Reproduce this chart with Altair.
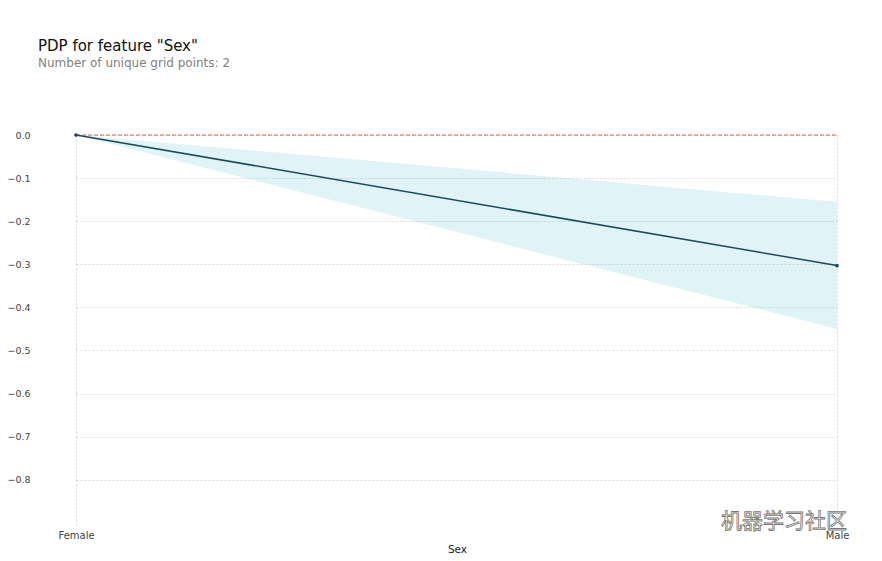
import altair as alt
import pandas as pd

categories = ["Female", "Male"]
pdp_values = [0.0, -0.303]
lower_values = [0.0, -0.450]
upper_values = [0.0, -0.155]
zero_values = [0.0, 0.0]
y_domain = [-0.905, 0.0]

df = pd.DataFrame({
    "Sex": categories,
    "pdp": pdp_values,
    "lo": lower_values,
    "hi": upper_values,
    "zero": zero_values,
})
wm_df = pd.DataFrame({"t": ["机器学习社区"]})

FONT = "DejaVu Sans"

x_scale = alt.Scale(type="point", padding=0, range=[40, 801])

x_enc = alt.X(
    "Sex:N",
    sort=categories,
    scale=x_scale,
    axis=alt.Axis(
        title="Sex",
        labelAngle=0,
        labelFont=FONT,
        labelFontSize=10,
        labelColor="#444444",
        labelPadding=5,
        titleFont=FONT,
        titleFontSize=10.5,
        titleFontWeight="normal",
        titleColor="#222222",
        titlePadding=4,
        titleX=421,
        domain=False,
        ticks=False,
        grid=True,
        gridColor="#c8c8c8",
        gridDash=[2, 2],
        gridWidth=0.7,
    ),
)

y_scale = alt.Scale(domain=y_domain, nice=False, zero=False)

band = alt.Chart(df).mark_area(color="#66C2D7", opacity=0.2).encode(
    x=x_enc,
    y=alt.Y(
        "lo:Q",
        scale=y_scale,
        axis=alt.Axis(
            title=None,
            values=[0.0, -0.1, -0.2, -0.3, -0.4, -0.5, -0.6, -0.7, -0.8],
            format=".1f",
            labelFont=FONT,
            labelFontSize=9.5,
            labelColor="#444444",
            labelPadding=6,
            domain=False,
            ticks=False,
            grid=True,
            gridColor="#c8c8c8",
            gridDash=[2, 2],
            gridWidth=0.7,
        ),
    ),
    y2="hi:Q",
)

zero = alt.Chart(df).mark_line(color="#EC5B3A", strokeDash=[4, 2], strokeWidth=1).encode(
    x=alt.X("Sex:N", sort=categories, scale=x_scale),
    y=alt.Y("zero:Q", scale=y_scale),
)

line = alt.Chart(df).mark_line(color="#1A4B5A", strokeWidth=1.5).encode(
    x=alt.X("Sex:N", sort=categories, scale=x_scale),
    y=alt.Y("pdp:Q", scale=y_scale),
)

pts = alt.Chart(df).mark_circle(color="#1A4B5A", size=14, opacity=1).encode(
    x=alt.X("Sex:N", sort=categories, scale=x_scale),
    y=alt.Y("pdp:Q", scale=y_scale),
)

wm = alt.Chart(wm_df).mark_text(
    font="Noto Sans CJK SC",
    fontSize=21,
    fill="white",
    stroke="#777777",
    strokeWidth=0.8,
    align="left",
    baseline="middle",
).encode(
    text="t:N",
    x=alt.value(685),
    y=alt.value(387),
)

chart = alt.layer(band, zero, line, pts, wm).properties(
    width=838,
    height=390,
    title=alt.Title(
        text='PDP for feature "Sex"',
        subtitle="Number of unique grid points: 2",
        anchor="start",
        frame="group",
        font=FONT,
        fontSize=15,
        fontWeight="normal",
        color="#111111",
        subtitleFont=FONT,
        subtitleFontSize=12,
        subtitleColor="#808080",
        subtitlePadding=4,
        offset=61,
        dx=2,
    ),
    autosize=alt.AutoSizeParams(type="none"),
    padding={"left": 28, "top": 127, "right": 0, "bottom": 34},
).configure_view(stroke=None)

chart.save("out.html", embed_options={"renderer": "svg", "actions": False})
